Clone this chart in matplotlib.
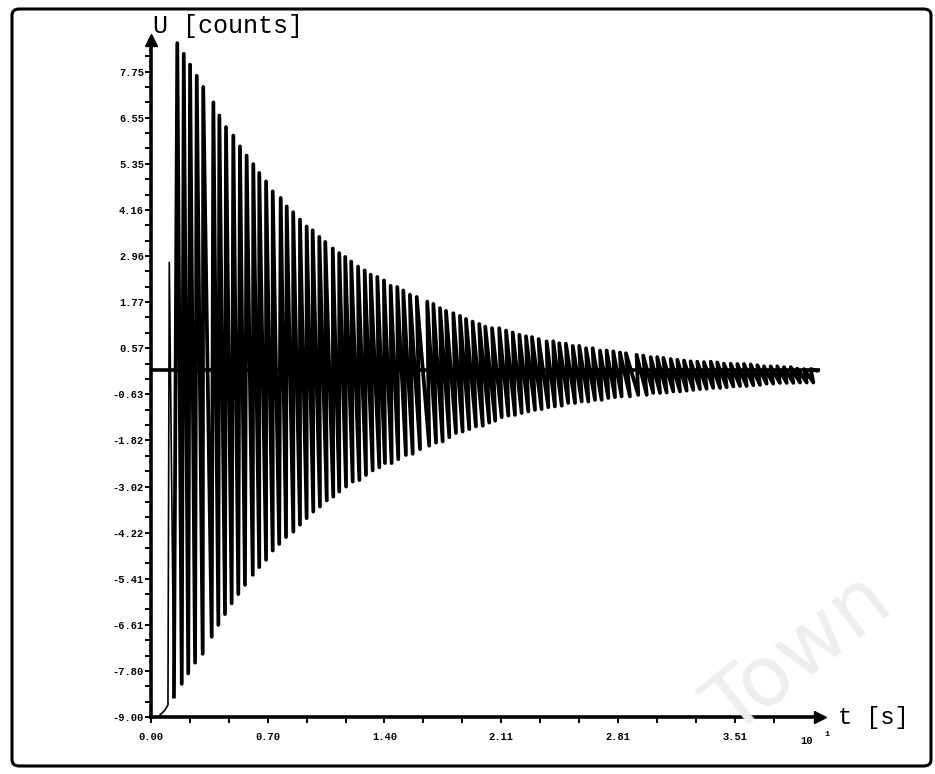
import numpy as np
import matplotlib
matplotlib.use("Agg")
import matplotlib.pyplot as plt
from matplotlib.patches import FancyBboxPatch

# start of the record (signal pegged at the bottom before release)
start_t = [0.0, 0.042, 0.084, 0.102, 0.110]
start_u = [-9.0, -9.0, -8.82, -8.69, 2.8]

# positive peaks
peak_t = [0.158, 0.197, 0.235, 0.275, 0.314, 0.375, 0.411, 0.451, 0.495, 0.535,
          0.575, 0.615, 0.651, 0.692, 0.732, 0.780, 0.816, 0.855, 0.896, 0.936,
          0.972, 1.012, 1.048, 1.093, 1.132, 1.168, 1.204, 1.245, 1.285, 1.321,
          1.361, 1.401, 1.441, 1.481, 1.517, 1.557, 1.598, 1.661, 1.698, 1.738,
          1.774, 1.818, 1.858, 1.894, 1.934, 1.974, 2.010, 2.051, 2.094, 2.135,
          2.175, 2.215, 2.255, 2.291, 2.331, 2.379, 2.419, 2.455, 2.495, 2.536,
          2.575, 2.616, 2.656, 2.700, 2.740, 2.780, 2.820, 2.856, 2.920, 2.960,
          3.005, 3.044, 3.081, 3.125, 3.165, 3.205, 3.245, 3.285, 3.325, 3.366,
          3.405, 3.445, 3.486, 3.526, 3.566, 3.606, 3.646, 3.686, 3.726, 3.766,
          3.806, 3.847, 3.886, 3.927, 3.967, 4.003]
peak_u = [8.49, 8.21, 7.93, 7.64, 7.35, 6.95, 6.61, 6.31, 6.09, 5.81,
          5.57, 5.35, 5.12, 4.90, 4.64, 4.47, 4.25, 4.10, 3.91, 3.73,
          3.63, 3.46, 3.33, 3.16, 3.04, 2.94, 2.82, 2.69, 2.59, 2.48,
          2.42, 2.33, 2.19, 2.16, 2.07, 1.96, 1.90, 1.78, 1.72, 1.61,
          1.54, 1.48, 1.41, 1.33, 1.26, 1.20, 1.13, 1.09, 1.09, 1.03,
          0.98, 0.92, 0.88, 0.86, 0.81, 0.75, 0.75, 0.70, 0.69, 0.63,
          0.63, 0.57, 0.57, 0.51, 0.51, 0.49, 0.46, 0.44, 0.40, 0.38,
          0.34, 0.34, 0.32, 0.29, 0.27, 0.25, 0.23, 0.22, 0.21, 0.22,
          0.20, 0.17, 0.17, 0.16, 0.16, 0.15, 0.13, 0.10, 0.10, 0.10,
          0.08, 0.08, 0.04, 0.03, 0.03, -0.01]

# negative troughs
trough_t = [0.138, 0.185, 0.224, 0.265, 0.311, 0.365, 0.405, 0.445, 0.485, 0.525,
            0.565, 0.612, 0.651, 0.692, 0.732, 0.771, 0.812, 0.856, 0.896, 0.936,
            0.976, 1.016, 1.057, 1.096, 1.132, 1.173, 1.213, 1.253, 1.293, 1.333,
            1.373, 1.407, 1.447, 1.487, 1.533, 1.574, 1.618, 1.673, 1.714, 1.754,
            1.794, 1.834, 1.874, 1.914, 1.954, 1.995, 2.034, 2.070, 2.109, 2.149,
            2.189, 2.229, 2.269, 2.309, 2.349, 2.389, 2.429, 2.470, 2.509, 2.550,
            2.590, 2.630, 2.670, 2.710, 2.750, 2.790, 2.830, 2.880, 2.930, 2.981,
            3.020, 3.061, 3.101, 3.141, 3.181, 3.221, 3.261, 3.301, 3.341, 3.381,
            3.422, 3.462, 3.502, 3.542, 3.582, 3.622, 3.662, 3.702, 3.742, 3.782,
            3.823, 3.863, 3.903, 3.943, 3.983]
trough_u = [-8.47, -8.14, -7.87, -7.59, -7.36, -6.92, -6.61, -6.33, -6.05, -5.81,
            -5.57, -5.31, -5.11, -4.92, -4.68, -4.51, -4.33, -4.19, -4.01, -3.84,
            -3.67, -3.54, -3.38, -3.28, -3.15, -3.02, -2.89, -2.85, -2.72, -2.60,
            -2.52, -2.41, -2.41, -2.31, -2.20, -2.17, -2.05, -1.96, -1.88, -1.85,
            -1.74, -1.63, -1.59, -1.53, -1.46, -1.44, -1.36, -1.31, -1.22, -1.18,
            -1.16, -1.11, -1.07, -1.03, -1.01, -0.96, -0.94, -0.92, -0.85, -0.85,
            -0.81, -0.81, -0.77, -0.77, -0.72, -0.70, -0.68, -0.68, -0.64, -0.64,
            -0.59, -0.59, -0.58, -0.55, -0.55, -0.53, -0.51, -0.49, -0.48, -0.46,
            -0.46, -0.44, -0.42, -0.41, -0.41, -0.39, -0.38, -0.35, -0.35, -0.33,
            -0.33, -0.33, -0.32, -0.32, -0.32]

xtick_vals = [0.0, 0.702, 1.404, 2.106, 2.808, 3.51]
xtick_labels = ["0.00", "0.70", "1.40", "2.11", "2.81", "3.51"]
ytick_vals = [-9.00, -7.80, -6.61, -5.41, -4.22, -3.02, -1.82, -0.63,
              0.57, 1.77, 2.96, 4.16, 5.35, 6.55, 7.75]
ytick_labels = ["-9.00", "-7.80", "-6.61", "-5.41", "-4.22", "-3.02", "-1.82", "-0.63",
                "0.57", "1.77", "2.96", "4.16", "5.35", "6.55", "7.75"]

W, H = 935, 774
fig = plt.figure(figsize=(W / 100, H / 100), dpi=100)

# page frame of the scanned printout
frame = FancyBboxPatch((12 / W, (H - 766) / H), (931 - 12) / W, (766 - 9) / H,
                       boxstyle="round,pad=0,rounding_size=0.008",
                       transform=fig.transFigure, fill=False,
                       edgecolor="black", linewidth=2.2)
fig.patches.append(frame)

# faint watermark
fig.text(800 / W, 1 - 655 / H, "Town", fontsize=60, color="#eeeeee",
         rotation=38, ha="center", va="center", zorder=0)

# axes placed so that pixel positions match the plot
x0, x1 = 151, 819.5
y0, y1 = 717, 39.6
ax = fig.add_axes([x0 / W, 1 - y0 / H, (x1 - x0) / W, (y0 - y1) / H])
ax.patch.set_alpha(0)
ax.set_xlim(0, 4.02)
ax.set_ylim(-9.0, 8.58)

# signal: zigzag between troughs and peaks
n = min(len(peak_t), len(trough_t))
sig_t = np.empty(2 * n)
sig_u = np.empty(2 * n)
sig_t[0::2], sig_t[1::2] = trough_t[:n], peak_t[:n]
sig_u[0::2], sig_u[1::2] = trough_u[:n], peak_u[:n]
sig_t = np.concatenate([start_t, sig_t, peak_t[n:]])
sig_u = np.concatenate([start_u, sig_u, peak_u[n:]])
ax.plot(sig_t[:6], sig_u[:6], color="black", lw=1.2)
ax.plot(sig_t[5:], sig_u[5:], color="black", lw=2.7, solid_joinstyle="round")

ax.axhline(0, color="black", lw=2.6)

# arrow-style axes
for s in ["top", "right"]:
    ax.spines[s].set_visible(False)
for s in ["left", "bottom"]:
    ax.spines[s].set_linewidth(2.6)
ax.plot(0, 1, "^k", ms=8, transform=ax.transAxes, clip_on=False)
ax.plot(1, 0, ">k", ms=8, transform=ax.transAxes, clip_on=False)

mono = "Liberation Mono"
ax.set_xticks(xtick_vals, labels=xtick_labels)
ax.set_yticks(ytick_vals, labels=ytick_labels)
ax.set_xticks([k * 0.234 for k in range(1, 17) if k % 3], minor=True)
ax.set_yticks([-9.0 + k * 0.3988 for k in range(1, 44) if k % 3], minor=True)
ax.tick_params(which="both", direction="out", length=4, width=1.4, color="black")
ax.tick_params(axis="x", pad=7)
ax.tick_params(axis="y", pad=1)
for lab in ax.get_xticklabels() + ax.get_yticklabels():
    lab.set_fontfamily(mono)
    lab.set_fontweight("bold")
    lab.set_fontsize(7.5)

# axis titles and the end-of-axis marker
fig.text(153 / W, 1 - 33 / H, "U [counts]", fontsize=18, family=mono,
         ha="left", va="baseline")
fig.text(838 / W, 1 - 724 / H, "t [s]", fontsize=17, family=mono,
         ha="left", va="baseline")
fig.text(807 / W, 1 - 744 / H, "10", fontsize=7.5, family=mono,
         fontweight="bold", ha="center", va="baseline")
fig.text(827 / W, 1 - 736 / H, "1", fontsize=6, family=mono,
         fontweight="bold", ha="center", va="baseline")

fig.savefig("out.png", dpi=100)
